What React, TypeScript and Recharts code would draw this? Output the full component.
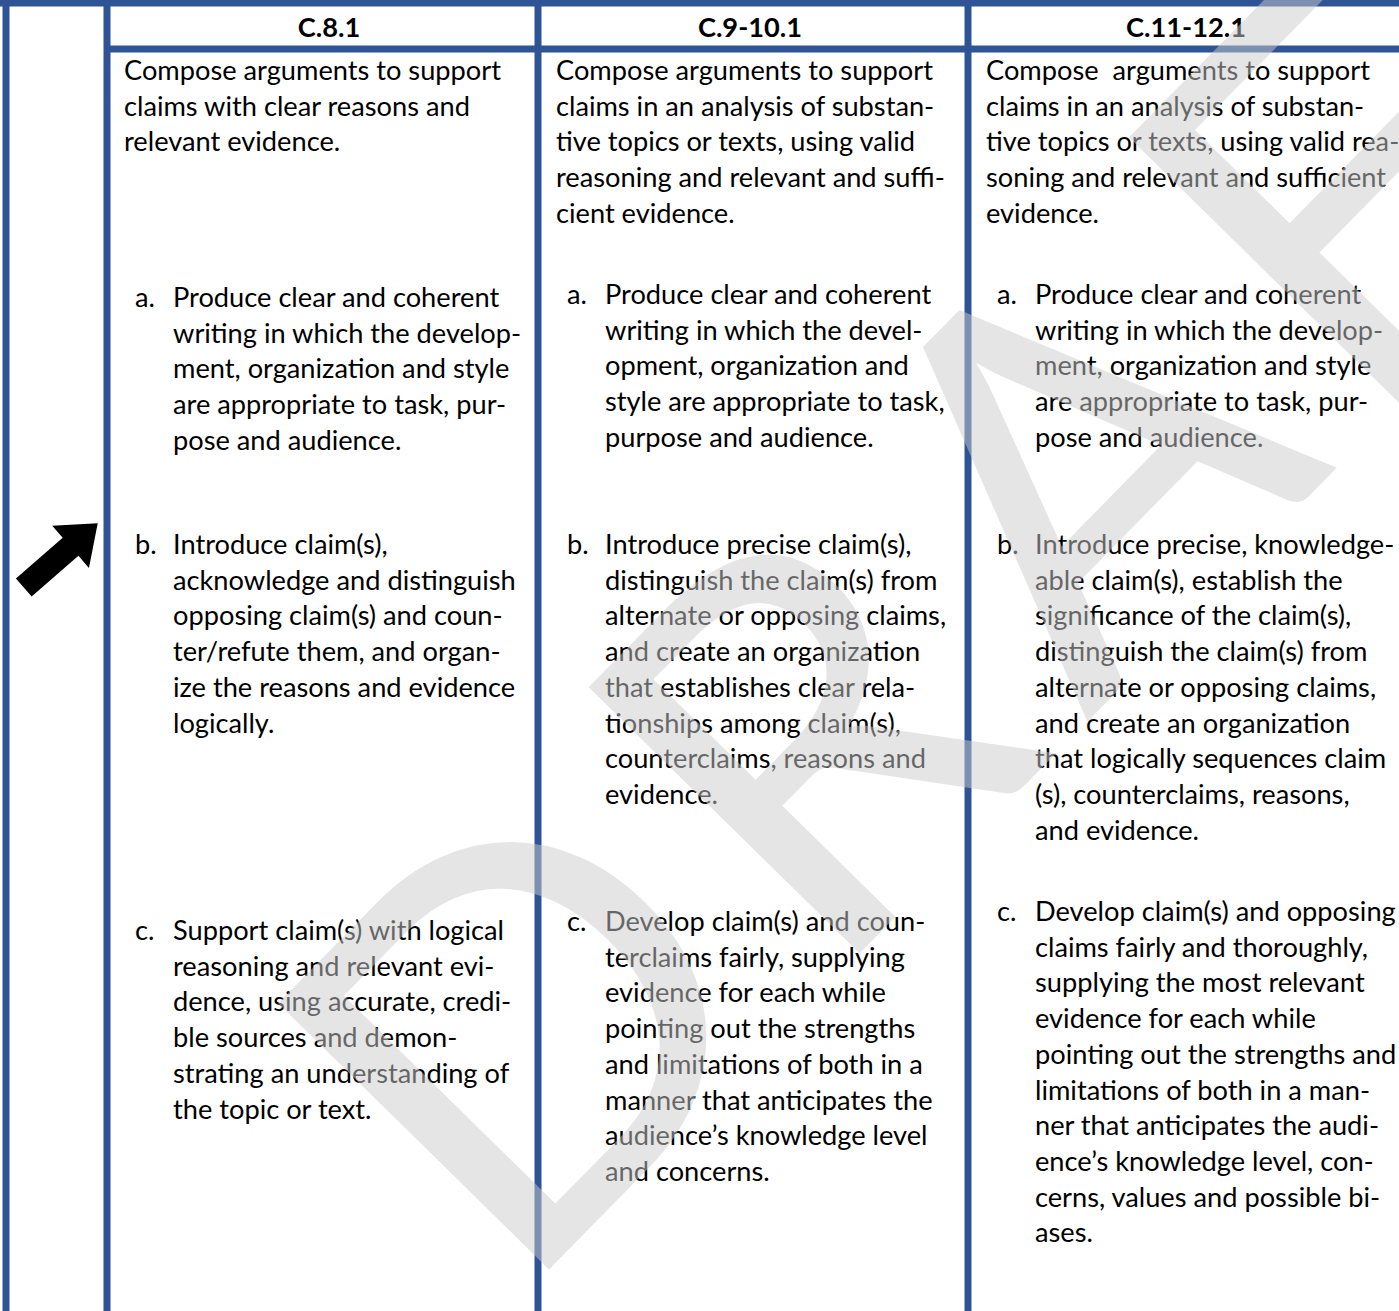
import { ScatterChart, Scatter, XAxis, YAxis, ReferenceLine } from "recharts";

const W = 1399;
const H = 1311;

// header labels
const headers = ["C.8.1", "C.9-10.1", "C.11-12.1"];
const itemLabels = ["a.", "b.", "c."];

// column C.8.1
const intro8 = ["Compose arguments to support", "claims with clear reasons and", "relevant evidence."];
const items8 = [
  ["Produce clear and coherent", "writing in which the develop-", "ment, organization and style", "are appropriate to task, pur-", "pose and audience."],
  ["Introduce claim(s),", "acknowledge and distinguish", "opposing claim(s) and coun-", "ter/refute them, and organ-", "ize the reasons and evidence", "logically."],
  ["Support claim(s) with logical", "reasoning and relevant evi-", "dence, using accurate, credi-", "ble sources and demon-", "strating an understanding of", "the topic or text."],
];

// column C.9-10.1
const intro910 = ["Compose arguments to support", "claims in an analysis of substan-", "tive topics or texts, using valid", "reasoning and relevant and suffi-", "cient evidence."];
const items910 = [
  ["Produce clear and coherent", "writing in which the devel-", "opment, organization and", "style are appropriate to task,", "purpose and audience."],
  ["Introduce precise claim(s),", "distinguish the claim(s) from", "alternate or opposing claims,", "and create an organization", "that establishes clear rela-", "tionships among claim(s),", "counterclaims, reasons and", "evidence."],
  ["Develop claim(s) and coun-", "terclaims fairly, supplying", "evidence for each while", "pointing out the strengths", "and limitations of both in a", "manner that anticipates the", "audience\u2019s knowledge level", "and concerns."],
];

// column C.11-12.1
const intro1112 = ["Compose  arguments to support", "claims in an analysis of substan-", "tive topics or texts, using valid rea-", "soning and relevant and sufficient", "evidence."];
const items1112 = [
  ["Produce clear and coherent", "writing in which the develop-", "ment, organization and style", "are appropriate to task, pur-", "pose and audience."],
  ["Introduce precise, knowledge-", "able claim(s), establish the", "significance of the claim(s),", "distinguish the claim(s) from", "alternate or opposing claims,", "and create an organization", "that logically sequences claim", "(s), counterclaims, reasons,", "and evidence."],
  ["Develop claim(s) and opposing", "claims fairly and thoroughly,", "supplying the most relevant", "evidence for each while", "pointing out the strengths and", "limitations of both in a man-", "ner that anticipates the audi-", "ence\u2019s knowledge level, con-", "cerns, values and possible bi-", "ases."],
];

const watermark = "DRAFT";

const columns = [
  { intro: intro8, items: items8 },
  { intro: intro910, items: items910 },
  { intro: intro1112, items: items1112 },
];

// layout (pixels, the axes map 1:1)
const BLUE = "#2F5496";
const FONT = "Lato, 'Open Sans', sans-serif";
const LINE_H = 35.7;
const BASE_OFF = 8;
const colX = [124, 556, 986];
const headerX = [329, 750, 1186];
const headerBase = 37;
const labelDx = 11;
const textDx = 49;
const rowTops = [
  [72, 299, 546, 932],
  [72, 296, 546, 923],
  [72, 296, 546, 913],
];
const vLines = [6, 107, 538, 968];
const topY = 3;
const headY = 49;
const arrowAt = { x: 60, y: 556 };
const wmAt = { x: 515, y: 1304 };

function fitSize() {
  try {
    const ctx = document.createElement("canvas").getContext("2d");
    if (!ctx) return 27.5;
    ctx.font = "100px Lato";
    const w = ctx.measureText(intro8[0]).width;
    return w > 0 ? (100 * 377) / w : 27.5;
  } catch {
    return 27.5;
  }
}
const FS = fitSize();

type TextPt = { x: number; y: number; text: string; bold?: boolean; anchor?: string };

const textPts: TextPt[] = [];
columns.forEach((col, ci) => {
  textPts.push({ x: headerX[ci], y: headerBase, text: headers[ci], bold: true, anchor: "middle" });
  col.intro.forEach((t, li) => {
    textPts.push({ x: colX[ci], y: rowTops[ci][0] + li * LINE_H + BASE_OFF, text: t });
  });
  col.items.forEach((lines, ii) => {
    const top = rowTops[ci][ii + 1];
    textPts.push({ x: colX[ci] + labelDx, y: top + BASE_OFF, text: itemLabels[ii] });
    lines.forEach((t, li) => {
      textPts.push({ x: colX[ci] + textDx, y: top + li * LINE_H + BASE_OFF, text: t });
    });
  });
});

const TextShape = (p: any) => {
  const d = p.payload as TextPt;
  return (
    <text
      x={p.cx}
      y={p.cy}
      fontFamily={FONT}
      fontSize={FS}
      fontWeight={d.bold ? 700 : 400}
      fill="#000"
      textAnchor={d.anchor || "start"}
      style={{ whiteSpace: "pre" }}
    >
      {d.text}
    </text>
  );
};

const ArrowShape = (p: any) => {
  // tail at -48, tip at +50 along the arrow axis
  const pts = [
    [-48, -12],
    [14, -12],
    [14, -28],
    [50, 0],
    [14, 28],
    [14, 12],
    [-48, 12],
  ]
    .map((q) => q.join(","))
    .join(" ");
  return <polygon points={pts} fill="#000" transform={`translate(${p.cx},${p.cy}) rotate(-41)`} />;
};

const WatermarkShape = (p: any) => (
  <text
    x={0}
    y={0}
    transform={`translate(${p.cx},${p.cy}) rotate(-45.5)`}
    fontFamily={FONT}
    fontSize={530}
    fontWeight={400}
    letterSpacing={40}
    fill="rgba(204,204,204,0.5)"
  >
    {p.payload.text}
  </text>
);

export default function App() {
  return (
    <div style={{ position: "absolute", left: 0, top: 0, background: "#fff" }}>
      <ScatterChart width={W} height={H} margin={{ top: 0, right: 0, bottom: 0, left: 0 }}>
        <XAxis type="number" dataKey="x" domain={[0, W]} hide allowDataOverflow />
        <YAxis type="number" dataKey="y" domain={[0, H]} reversed hide allowDataOverflow />
        {vLines.map((x) => (
          <ReferenceLine key={"v" + x} x={x} stroke={BLUE} strokeWidth={7} />
        ))}
        <ReferenceLine y={topY} stroke={BLUE} strokeWidth={7} />
        <ReferenceLine
          segment={[
            { x: vLines[1], y: headY },
            { x: W, y: headY },
          ]}
          stroke={BLUE}
          strokeWidth={7}
        />
        <Scatter data={textPts} shape={TextShape} isAnimationActive={false} />
        <Scatter data={[{ ...arrowAt }]} shape={ArrowShape} isAnimationActive={false} />
        <Scatter data={[{ ...wmAt, text: watermark }]} shape={WatermarkShape} isAnimationActive={false} />
      </ScatterChart>
    </div>
  );
}
